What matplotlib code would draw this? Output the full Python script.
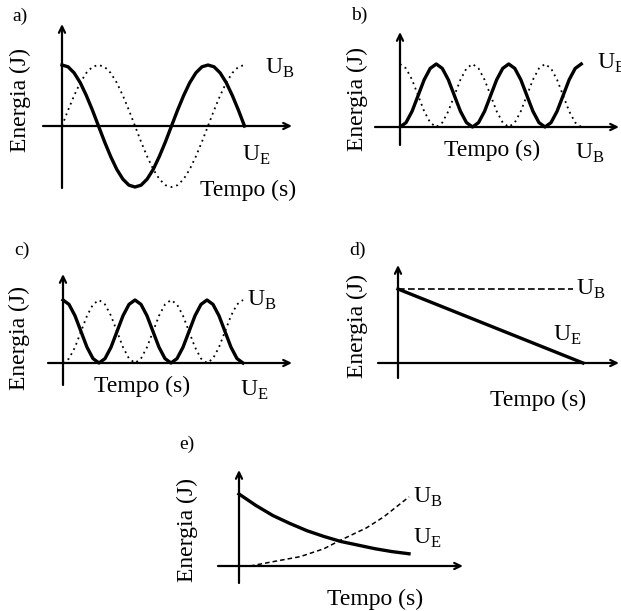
import numpy as np
import matplotlib
matplotlib.use("Agg")
import matplotlib.pyplot as plt

plt.rcParams['font.family'] = ['Liberation Serif', 'DejaVu Serif']
plt.rcParams['mathtext.fontset'] = 'custom'
plt.rcParams['mathtext.rm'] = 'Liberation Serif'

W, H = 621, 611

# ---------------------
# data (energies normalised to peak = 1)
# ---------------------
# a) time in periods, 15 degree steps
t_a = np.arange(31) / 24
ue_a = [1, .97, .87, .71, .5, .26, 0, -.26, -.5, -.71, -.87, -.97, -1, -.97, -.87, -.71,
        -.5, -.26, 0, .26, .5, .71, .87, .97, 1, .97, .87, .71, .5, .26, 0]
ub_a = [0, .26, .5, .71, .87, .97, 1, .97, .87, .71, .5, .26, 0, -.26, -.5, -.71, -.87,
        -.97, -1, -.97, -.87, -.71, -.5, -.26, 0, .26, .5, .71, .87, .97, 1]

# b) and c) time in oscillation periods of the energy
t_bc = np.arange(31) / 12
ue_b = [0, .07, .25, .5, .75, .93, 1, .93, .75, .5, .25, .07,
        0, .07, .25, .5, .75, .93, 1, .93, .75, .5, .25, .07,
        0, .07, .25, .5, .75, .93, 1]
ub_b = [1, .93, .75, .5, .25, .07, 0, .07, .25, .5, .75, .93,
        1, .93, .75, .5, .25, .07, 0, .07, .25, .5, .75, .93,
        1, .93, .75, .5, .25, .07, 0]
ue_c = [1, .93, .75, .5, .25, .07, 0, .07, .25, .5, .75, .93,
        1, .93, .75, .5, .25, .07, 0, .07, .25, .5, .75, .93,
        1, .93, .75, .5, .25, .07, 0]
ub_c = [0, .07, .25, .5, .75, .93, 1, .93, .75, .5, .25, .07,
        0, .07, .25, .5, .75, .93, 1, .93, .75, .5, .25, .07,
        0, .07, .25, .5, .75, .93, 1]

# d)
t_ue_d = [0, 1]
ue_d = [1, 0]
t_ub_d = [0, 0.946]
ub_d = [1, 1]

# e)
t_ue_e = [0, 0.1, 0.2, 0.3, 0.4, 0.5, 0.6, 0.7, 0.8, 0.9, 1.0]
ue_e = [1, .84, .70, .59, .49, .41, .34, .29, .24, .20, .17]
t_ub_e = [0.065, 0.2, 0.36, 0.5, 0.59, 0.75, 0.85, 1.0]
ub_e = [0, .06, .13, .24, .35, .53, .68, .96]

fig = plt.figure(figsize=(W / 100, H / 100), dpi=100)
fig.patch.set_facecolor('white')


def panel(ox, oy, sx, sy):
    # full-figure axes with data origin at pixel (ox, oy)
    ax = fig.add_axes([0, 0, 1, 1])
    ax.set_xlim(-ox / sx, (W - ox) / sx)
    ax.set_ylim(-(H - oy) / sy, oy / sy)
    ax.axis('off')
    ax.patch.set_visible(False)
    return ax


def axes_arrows(ax, ox, oy, sx, sy, xl, xr, yb, yt):
    arr = dict(arrowstyle='->, head_length=0.45, head_width=0.22', lw=1.6, color='black',
               shrinkA=0, shrinkB=0)
    ax.annotate('', xy=((xr - ox) / sx, 0), xytext=((xl - ox) / sx, 0), arrowprops=arr)
    ax.annotate('', xy=(0, (oy - yt) / sy), xytext=(0, (oy - yb) / sy), arrowprops=arr)


def txt(x, y, s, size=17, **kw):
    fig.text(x / W, 1 - y / H, s, fontsize=size, va='center', **kw)


solid = dict(color='black', lw=2.4, solid_joinstyle='round')
dots = dict(color='black', lw=1.3, linestyle=(0, (1, 2.2)))

# a)
ox, oy, sx, sy = 62, 126, 146, 61
ax = panel(ox, oy, sx, sy)
axes_arrows(ax, ox, oy, sx, sy, 43, 292, 188, 24)
ax.plot(t_a, ub_a, **dots)
ax.plot(t_a, ue_a, **solid)
txt(20, 16, 'a)', 14, ha='center')
txt(20, 100, 'Energia (J)', rotation=90, ha='center')
txt(265, 68, r'$\mathrm{U}_\mathrm{B}$')
txt(242, 155, r'$\mathrm{U}_\mathrm{E}$')
txt(248, 190, 'Tempo (s)', ha='center')

# b)
ox, oy, sx, sy = 400, 127, 72.5, 63
ax = panel(ox, oy, sx, sy)
axes_arrows(ax, ox, oy, sx, sy, 375, 619, 145, 32)
ax.plot(t_bc, ub_b, **dots)
ax.plot(t_bc, ue_b, **solid)
txt(359, 15, 'b)', 14, ha='center')
txt(357, 99, 'Energia (J)', rotation=90, ha='center')
txt(597, 63, r'$\mathrm{U}_\mathrm{E}$')
txt(492, 150, 'Tempo (s)', ha='center')
txt(575, 153, r'$\mathrm{U}_\mathrm{B}$')

# c)
ox, oy, sx, sy = 63, 363, 72, 63
ax = panel(ox, oy, sx, sy)
axes_arrows(ax, ox, oy, sx, sy, 48, 292, 385, 274)
ax.plot(t_bc, ub_c, **dots)
ax.plot(t_bc, ue_c, **solid)
txt(22, 250, 'c)', 14, ha='center')
txt(19, 338, 'Energia (J)', rotation=90, ha='center')
txt(247, 300, r'$\mathrm{U}_\mathrm{B}$')
txt(142, 386, 'Tempo (s)', ha='center')
txt(240, 390, r'$\mathrm{U}_\mathrm{E}$')

# d)
ox, oy, sx, sy = 398, 363, 185, 74
ax = panel(ox, oy, sx, sy)
axes_arrows(ax, ox, oy, sx, sy, 378, 619, 378, 265)
ax.plot(t_ub_d, ub_d, color='black', lw=1.2, linestyle=(0, (4, 2)))
ax.plot(t_ue_d, ue_d, **solid)
txt(357, 250, 'd)', 14, ha='center')
txt(357, 326, 'Energia (J)', rotation=90, ha='center')
txt(576, 289, r'$\mathrm{U}_\mathrm{B}$')
txt(553, 335, r'$\mathrm{U}_\mathrm{E}$')
txt(538, 400, 'Tempo (s)', ha='center')

# e)
ox, oy, sx, sy = 239, 566, 170, 72
ax = panel(ox, oy, sx, sy)
axes_arrows(ax, ox, oy, sx, sy, 218, 463, 583, 470)
ax.plot(t_ub_e, ub_e, color='black', lw=1.1, linestyle=(0, (3, 2)))
ax.plot(t_ue_e, ue_e, **solid)
txt(187, 444, 'e)', 14, ha='center')
txt(187, 530, 'Energia (J)', rotation=90, ha='center')
txt(413, 497, r'$\mathrm{U}_\mathrm{B}$')
txt(413, 538, r'$\mathrm{U}_\mathrm{E}$')
txt(375, 599, 'Tempo (s)', ha='center')

fig.savefig('out.png', dpi=100)
